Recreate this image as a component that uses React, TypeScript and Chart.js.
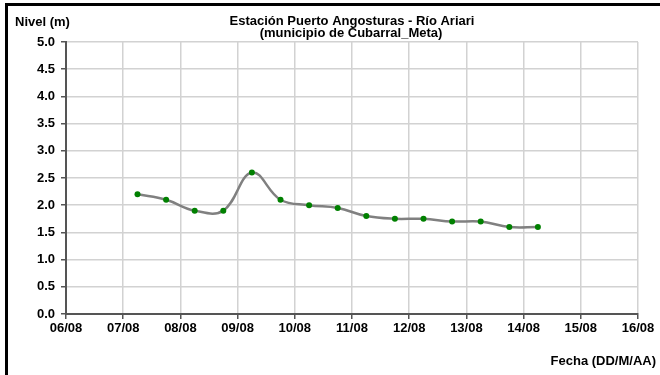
import React, { useEffect, useRef } from "react";
import { Chart, registerables } from "chart.js";

Chart.register(...registerables);

const titleLines = ["Estación Puerto Angosturas - Río Ariari", "(municipio de Cubarral_Meta)"];
const yAxisLabel = "Nivel (m)";
const xAxisLabel = "Fecha (DD/M/AA)";

const xTickLabels = ["06/08", "07/08", "08/08", "09/08", "10/08", "11/08", "12/08", "13/08", "14/08", "15/08", "16/08"];
const yTickValues = [0, 0.5, 1, 1.5, 2, 2.5, 3, 3.5, 4, 4.5, 5];

const readingTimes = [
  "07/08 06:00", "07/08 18:00",
  "08/08 06:00", "08/08 18:00",
  "09/08 06:00", "09/08 18:00",
  "10/08 06:00", "10/08 18:00",
  "11/08 06:00", "11/08 18:00",
  "12/08 06:00", "12/08 18:00",
  "13/08 06:00", "13/08 18:00",
  "14/08 06:00",
];
const levels = [2.2, 2.1, 1.9, 1.9, 2.6, 2.1, 2.0, 1.95, 1.8, 1.75, 1.75, 1.7, 1.7, 1.6, 1.6];

const startDay = 6;
function toDayOffset(s: string): number {
  const [d, t] = s.split(" ");
  const day = parseInt(d.split("/")[0], 10);
  const [hh, mm] = t.split(":").map((v) => parseInt(v, 10));
  return day - startDay + (hh + mm / 60) / 24;
}

const FONT = "Arial, 'Liberation Sans', sans-serif";

const textPlugin = {
  id: "extraText",
  afterDraw(chart: any) {
    const ctx = chart.ctx;
    ctx.save();
    ctx.fillStyle = "#000";
    ctx.font = `bold 13px ${FONT}`;
    ctx.textBaseline = "middle";
    ctx.textAlign = "left";
    ctx.fillText(yAxisLabel, 15, 22);
    ctx.textAlign = "center";
    ctx.fillText(titleLines[0], 352, 21);
    ctx.fillText(titleLines[1], 351, 33);
    ctx.textAlign = "right";
    ctx.fillText(xAxisLabel, 656, 361);
    ctx.restore();
  },
};

export default function App() {
  const ref = useRef<HTMLCanvasElement>(null);
  useEffect(() => {
    document.body.style.margin = "0";
    const canvas = ref.current!;
    const chart = new Chart(canvas, {
      type: "line",
      data: {
        datasets: [
          {
            data: readingTimes.map((t, i) => ({ x: toDayOffset(t), y: levels[i] })),
            borderColor: "#808080",
            borderWidth: 2.5,
            tension: 0.4,
            pointBackgroundColor: "#008000",
            pointBorderColor: "#008000",
            pointRadius: 3,
            pointBorderWidth: 0,
          },
        ],
      },
      options: {
        animation: false,
        responsive: false,
        layout: { padding: { top: 42, right: 22, bottom: 0, left: 0 } },
        plugins: { legend: { display: false }, tooltip: { enabled: false }, title: { display: false } },
        scales: {
          x: {
            type: "linear",
            min: 0,
            max: xTickLabels.length - 1,
            afterBuildTicks: (s: any) => {
              s.ticks = xTickLabels.map((_, i) => ({ value: i }));
            },
            afterFit: (s: any) => {
              s.height = 61;
            },
            ticks: {
              callback: (v: any) => xTickLabels[Math.round(Number(v))] ?? "",
              font: { family: FONT, size: 13, weight: "bold" },
              color: "#000",
              padding: 2,
              maxRotation: 0,
              autoSkip: false,
            },
            grid: { color: "#d2d2d2", lineWidth: 1.5, tickLength: 5, tickColor: "#555" },
            border: { color: "#555", width: 2 },
          },
          y: {
            type: "linear",
            min: 0,
            max: 5,
            afterBuildTicks: (s: any) => {
              s.ticks = yTickValues.map((v) => ({ value: v }));
            },
            afterFit: (s: any) => {
              s.width = 66;
            },
            ticks: {
              callback: (v: any) => Number(v).toFixed(1),
              font: { family: FONT, size: 13, weight: "bold" },
              color: "#000",
              padding: 6,
              autoSkip: false,
            },
            grid: { color: "#d2d2d2", lineWidth: 1.5, tickLength: 5, tickColor: "#555" },
            border: { color: "#555", width: 2 },
          },
        },
      },
      plugins: [textPlugin],
    } as any);
    return () => chart.destroy();
  }, []);

  return (
    <div style={{ position: "relative", width: 660, height: 375, background: "#fff", overflow: "hidden" }}>
      <canvas ref={ref} width={660} height={375} style={{ position: "absolute", left: 0, top: 0 }} />
      <div
        style={{
          position: "absolute",
          left: 5,
          top: 3,
          width: 660,
          height: 375,
          borderTop: "3px solid #000",
          borderLeft: "3px solid #000",
          pointerEvents: "none",
        }}
      />
    </div>
  );
}
